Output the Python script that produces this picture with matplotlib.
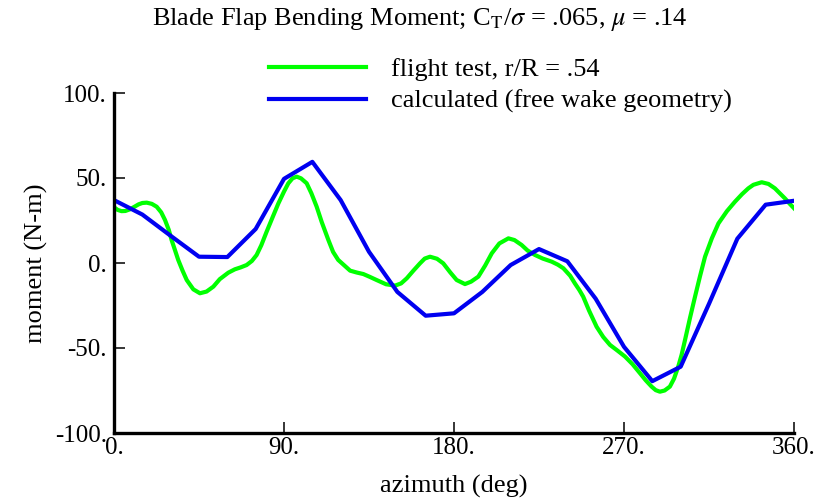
import numpy as np
import matplotlib
matplotlib.use("Agg")
import matplotlib.pyplot as plt

plt.rcParams['font.family'] = ['Liberation Serif', 'DejaVu Serif']
plt.rcParams['mathtext.fontset'] = 'stix'

# flight test, r/R = .54 (measured, densely sampled)
test_azimuth = [0, 2, 4, 6, 8.5, 11, 13, 15, 17.3, 20, 22.6, 25, 27, 29, 30.5, 32.3, 34, 36.3,
                38.5, 42, 45.5, 49, 52.6, 56, 60.5, 64, 67, 70.2, 73, 75.5, 78, 80.8, 84, 87,
                90, 92.3, 94.5, 96.7, 99, 102, 104.5, 107.3, 110, 113.5, 116, 118.7, 122,
                125, 128.5, 132, 135.5, 139, 144, 148.8, 152, 155, 158.5, 162, 164.5, 167.3,
                171, 174.3, 178, 181.4, 185.8, 189, 192.9, 196.5, 200, 204, 208.8, 212,
                215.8, 219, 222.9, 227, 231.7, 235, 237.9, 241.5, 244, 246.3, 248.4, 251.5,
                255.5, 259, 262.6, 266.5, 270.5, 274.5, 278.5, 281.5, 284.6, 286.8, 289,
                291.5, 294.3, 296.5, 298.7, 300.5, 302.3, 305, 307.6, 310.3, 312.9, 316.5,
                320, 324.5, 328.7, 332.5, 335.8, 338.5, 342.9, 346.5, 349.9, 352.5, 355.2,
                357.6, 360]
test_moment = [32.8, 31.2, 30.5, 30.6, 31.6, 33.2, 34.5, 35.3, 35.5, 34.8, 33.1, 29.8, 25.3,
               19.5, 13.5, 7.5, 1.8, -4.5, -10, -15.5, -17.8, -16.8, -13.9, -9.5, -5.7, -3.7,
               -2.6, -1.2, 1.2, 4.7, 10.5, 18.4, 27, 35, 42, 46.9, 49.8, 50.8, 49.8, 46.9, 41,
               33.1, 24, 13.5, 6.5, 1.8, -1.5, -4.5, -5.6, -6.5, -8.2, -10, -12.5, -13.3, -12,
               -9, -4.5, -0.2, 2.6, 3.7, 2.5, -0.2, -5.5, -10, -12.4, -11, -8, -1.5, 5.7,
               11.5, 14.5, 13.5, 10.6, 7.3, 4.7, 2.6, 0.8, -1, -3.1, -7.5, -12, -15.8, -19.8,
               -28, -37.5, -43.5, -48.2, -51.5, -55, -59.5, -64.9, -69, -72.7, -74.8, -75.7,
               -75, -72.7, -68, -61, -54, -45.3, -32, -19.8, -7.5, 3.7, 14.5, 23.3, 30.5, 36,
               40.5, 43.9, 46, 47.5, 46.5, 43.9, 41, 38, 35, 32.2]

# calculated (free wake geometry), every 15 deg
calc_azimuth = list(range(0, 361, 15))
calc_moment = [37, 28.5, 16, 3.7, 3.5, 20, 49.5, 59.5, 37, 6.6, -17, -31, -29.6, -17, -1.2,
               8.2, 1, -21, -49.3, -69.5, -61, -24, 14.3, 34.3, 36.6]

x_ticks = [0, 90, 180, 270, 360]
y_ticks = [-100, -50, 0, 50, 100]

fig = plt.figure(figsize=(8.28, 5.01), dpi=100)
ax = fig.add_axes([114 / 828, 1 - 433 / 501, 680 / 828, 340 / 501])

ax.plot(test_azimuth, test_moment, color='#00ff00', lw=3.0, label='flight test, r/R = .54',
        solid_joinstyle='round')
ax.plot(calc_azimuth, calc_moment, color='#0000f0', lw=3.0,
        label='calculated (free wake geometry)')

ax.set_xlim(0, 360)
ax.set_ylim(-100, 100)
ax.set_xticks(x_ticks)
ax.set_xticklabels([f'{v}.' for v in x_ticks])
ax.set_yticks(y_ticks)
ax.set_yticklabels([f'{v}.' for v in y_ticks])

for side in ['top', 'right']:
    ax.spines[side].set_visible(False)
for side in ['left', 'bottom']:
    ax.spines[side].set_linewidth(2.4)
    ax.spines[side].set_capstyle('projecting')

ax.tick_params(axis='both', direction='in', length=8, width=1.1, labelsize=18)
ax.tick_params(axis='x', pad=3)
ax.tick_params(axis='y', pad=5)

ax.set_xlabel('azimuth (deg)', fontsize=19, labelpad=11)
ax.set_ylabel('moment (N-m)', fontsize=19, labelpad=5)

fig.text(0.507, 0.988, r'Blade Flap Bending Moment; C$_\mathrm{T}$/$\sigma$ = .065, $\mu$ = .14',
         ha='center', va='top', fontsize=19)

ax.legend(loc='upper left', bbox_to_anchor=(258 / 828, 1 - 47 / 501),
          bbox_transform=fig.transFigure, frameon=False, fontsize=19,
          handlelength=3.7, handletextpad=0.95, labelspacing=0.32, borderaxespad=0)

fig.savefig('out.png', dpi=100)
